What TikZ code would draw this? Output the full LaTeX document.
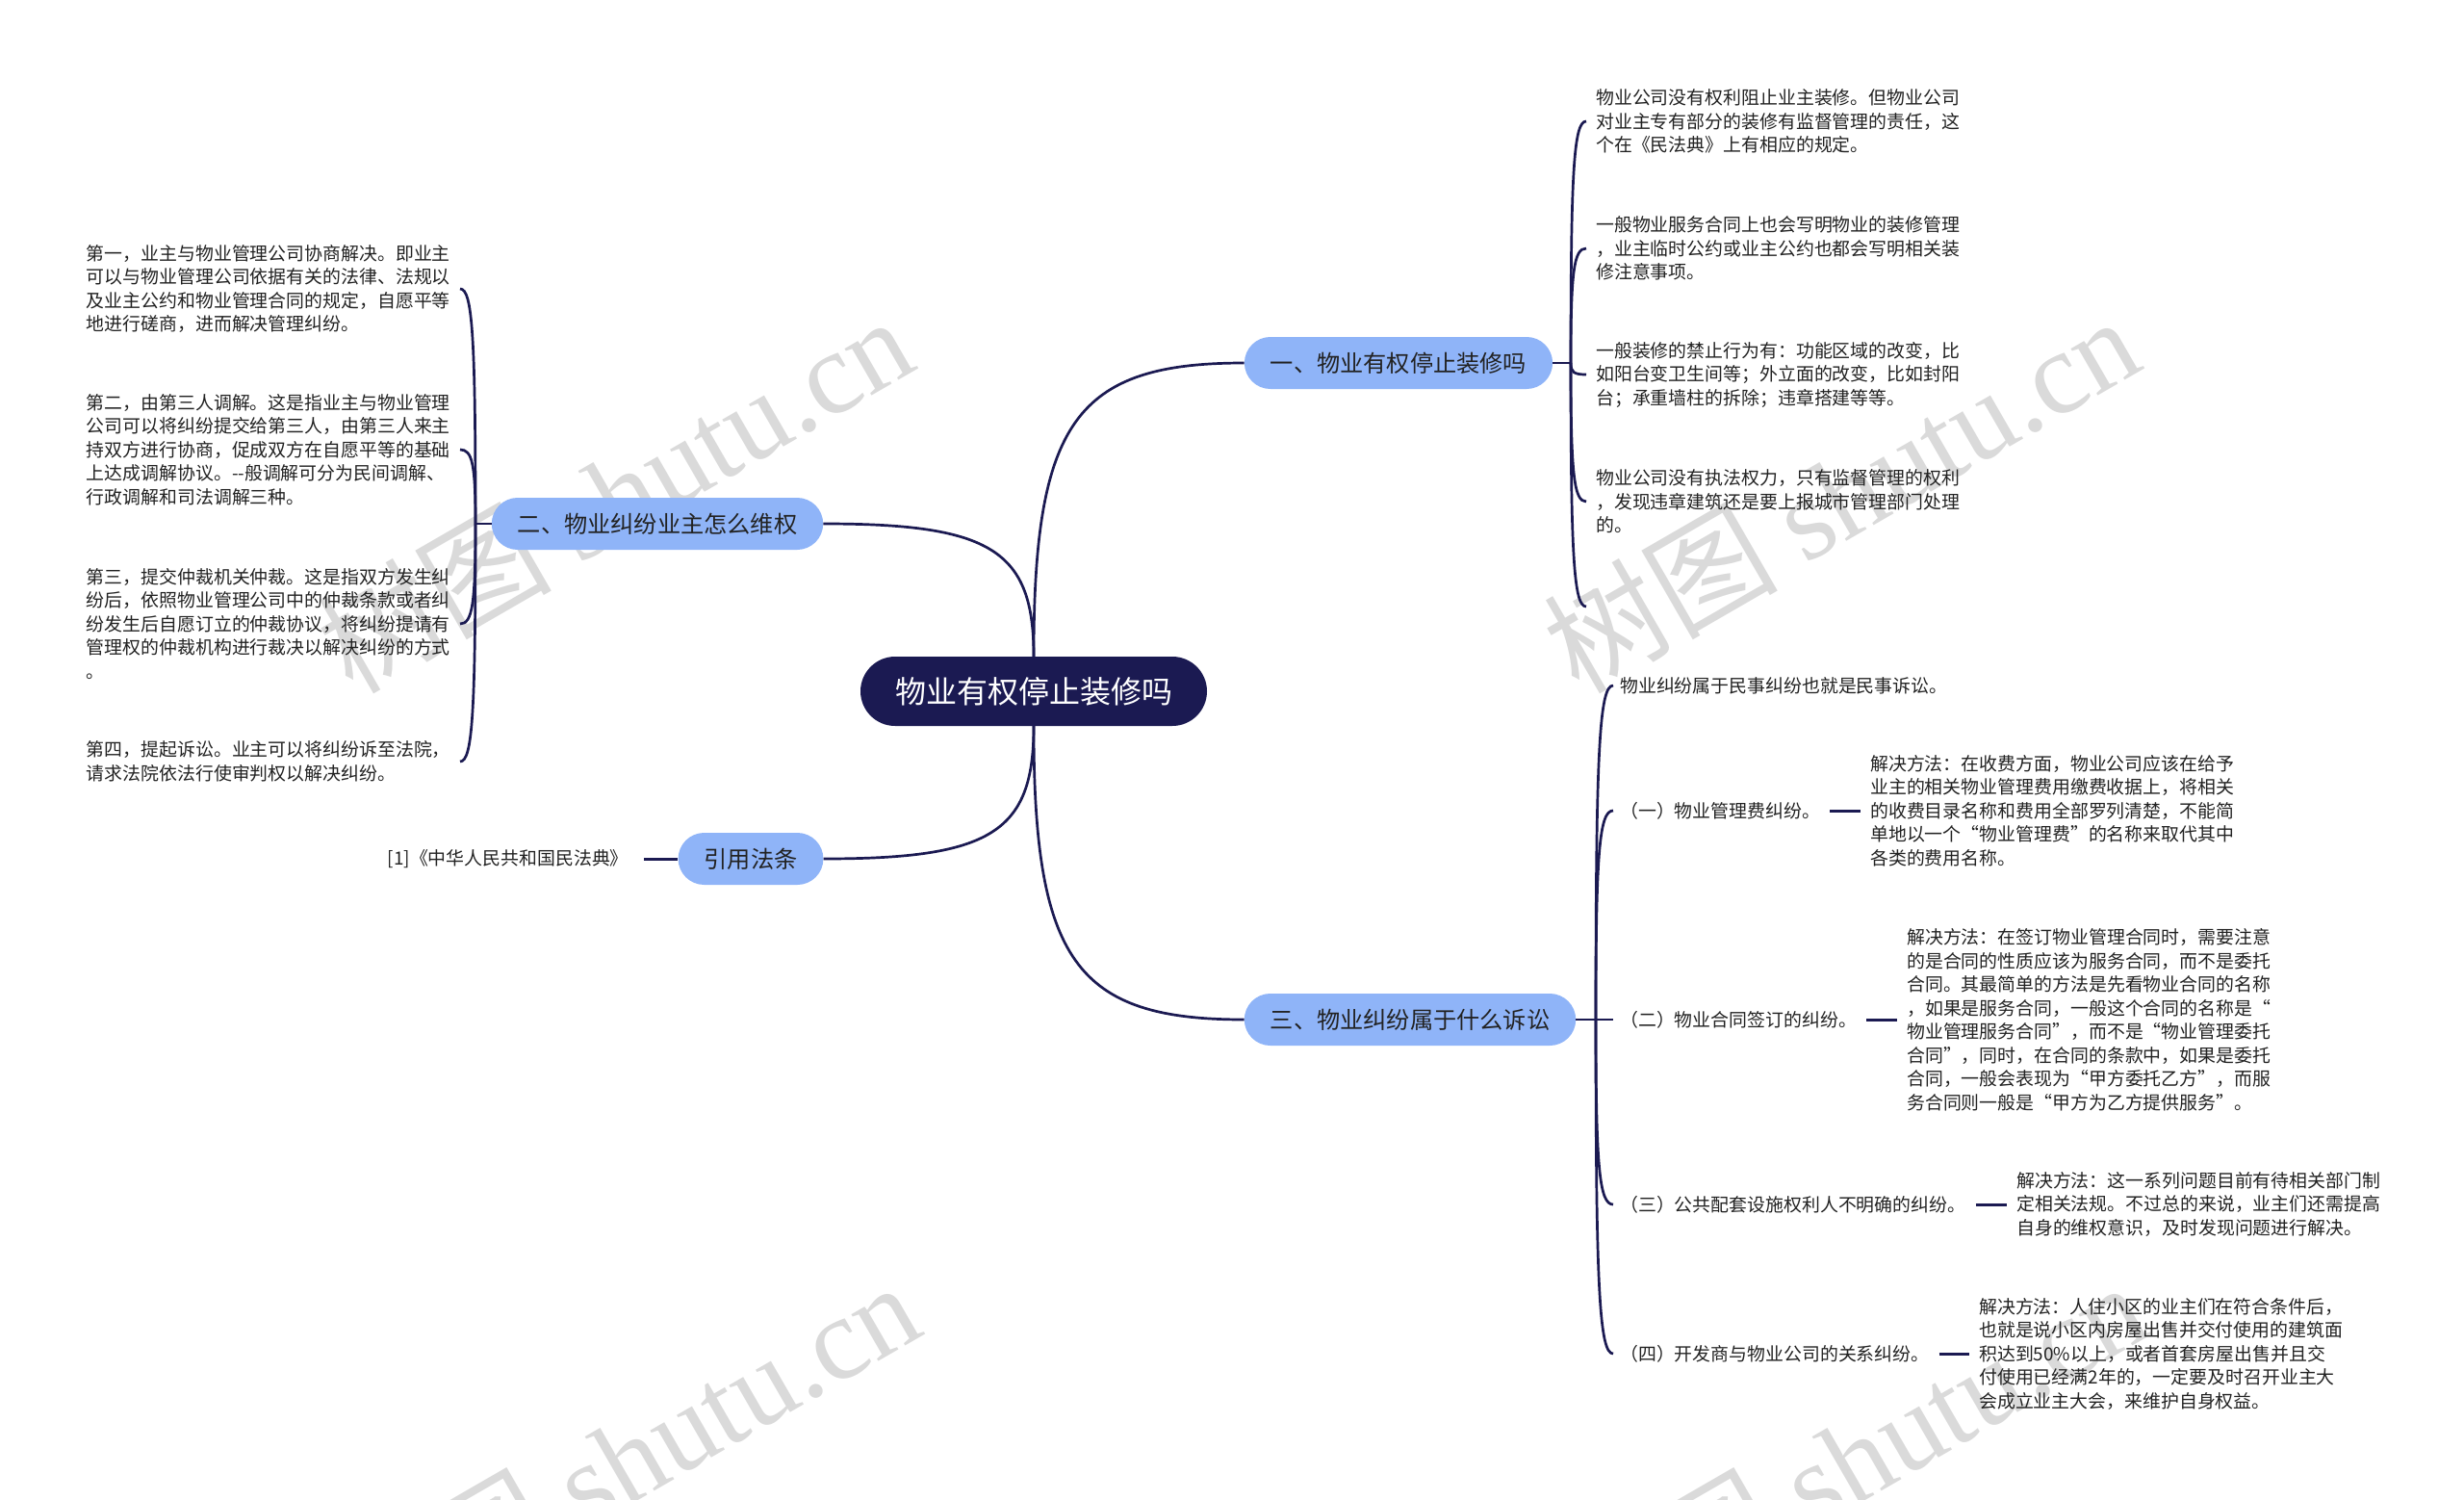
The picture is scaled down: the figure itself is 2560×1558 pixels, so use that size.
\documentclass[tikz,border=0pt]{standalone}
\usepackage{fontspec}
\setmainfont{Noto Sans CJK SC}
\newfontfamily\wmserif{Liberation Serif}
\usetikzlibrary{calc}
\definecolor{navy}{HTML}{1B1A52}
\definecolor{lblue}{HTML}{8FB4F8}
\definecolor{ink}{HTML}{222222}
\definecolor{wm}{HTML}{DADADA}
\begin{document}
\begin{tikzpicture}[x=1pt,y=-1pt,
 conn/.style={draw=navy,line width=2.7pt},
 rootnode/.style={fill=navy,text=white,rounded corners=36pt,minimum height=72pt,inner xsep=36pt,inner ysep=0pt,font=\fontsize{32}{38}\selectfont},
 branch/.style={fill=lblue,text=ink,rounded corners=27pt,minimum height=54pt,inner xsep=27pt,inner ysep=0pt,font=\fontsize{24.2}{29}\selectfont},
 leaf/.style={text=ink,align=left,inner xsep=10pt,inner ysep=0pt,font=\fontsize{18.9}{24.5}\selectfont},
 wmark/.style={text=wm,rotate=30,font=\fontsize{122}{130}\selectfont},
 curv/.style={to path={.. controls ($(\tikztostart)!0.8!(\tikztostart|-\tikztotarget)$) and ($(\tikztostart|-\tikztotarget)!0.2!(\tikztotarget)$) .. (\tikztotarget)}},
]
\fill[white] (0,0) rectangle (2560,1558);
\useasboundingbox (0,0) rectangle (2560,1558);

% watermarks
\node[wmark] (w1) at (638,512) {树图 {\wmserif shutu.cn}};
\node[wmark] (w2) at (1912,512) {树图 {\wmserif shutu.cn}};
\node[wmark] (w3) at (645,1515) {树图 {\wmserif shutu.cn}};
\node[wmark] (w4) at (1920,1515) {树图 {\wmserif shutu.cn}};

% main nodes
\node[rootnode] (root) at (1074,718) {物业有权停止装修吗};
\node[branch] (b1) at (1453,377) {一、物业有权停止装修吗};
\node[branch] (b2) at (683,544) {二、物业纠纷业主怎么维权};
\node[branch] (b3) at (1465,1059) {三、物业纠纷属于什么诉讼};
\node[branch] (b4) at (780,892) {引用法条};

\draw[conn] (root.north) to[curv] (b1.west);
\draw[conn] (root.north) to[curv] (b2.east);
\draw[conn] (root.south) to[curv] (b3.west);
\draw[conn] (root.south) to[curv] (b4.east);

% branch 1 children
\node[leaf,anchor=west] (r1) at (1648,126) {物业公司没有权利阻止业主装修。但物业公司\\对业主专有部分的装修有监督管理的责任，这\\个在《民法典》上有相应的规定。};
\node[leaf,anchor=west] (r2) at (1648,258) {一般物业服务合同上也会写明物业的装修管理\\，业主临时公约或业主公约也都会写明相关装\\修注意事项。};
\node[leaf,anchor=west] (r3) at (1648,389) {一般装修的禁止行为有：功能区域的改变，比\\如阳台变卫生间等；外立面的改变，比如封阳\\台；承重墙柱的拆除；违章搭建等等。};
\node[leaf,anchor=west] (r4) at (1648,521) {物业公司没有执法权力，只有监督管理的权利\\，发现违章建筑还是要上报城市管理部门处理\\的。};
\coordinate (j1) at (1632,377);
\coordinate (r5) at (1648,630);
\draw[conn] (b1.east) -- (j1);
\draw[conn] (j1) to[curv] (r1.west);
\draw[conn] (j1) to[curv] (r2.west);
\draw[conn] (j1) to[curv] (r3.west);
\draw[conn] (j1) to[curv] (r4.west);
\draw[conn] (j1) to[curv] (r5);

% branch 2 children
\node[leaf,anchor=east] (l1) at (478,300) {第一，业主与物业管理公司协商解决。即业主\\可以与物业管理公司依据有关的法律、法规以\\及业主公约和物业管理合同的规定，自愿平等\\地进行磋商，进而解决管理纠纷。};
\node[leaf,anchor=east] (l2) at (478,467) {第二，由第三人调解。这是指业主与物业管理\\公司可以将纠纷提交给第三人，由第三人来主\\持双方进行协商，促成双方在自愿平等的基础\\上达成调解协议。-{}-般调解可分为民间调解、\\行政调解和司法调解三种。};
\node[leaf,anchor=east] (l3) at (478,648) {第三，提交仲裁机关仲裁。这是指双方发生纠\\纷后，依照物业管理公司中的仲裁条款或者纠\\纷发生后自愿订立的仲裁协议，将纠纷提请有\\管理权的仲裁机构进行裁决以解决纠纷的方式\\。};
\node[leaf,anchor=east] (l4) at (478,791) {第四，提起诉讼。业主可以将纠纷诉至法院，\\请求法院依法行使审判权以解决纠纷。};
\coordinate (j2) at (494,544);
\draw[conn] (b2.west) -- (j2);
\draw[conn] (j2) to[curv] (l1.east);
\draw[conn] (j2) to[curv] (l2.east);
\draw[conn] (j2) to[curv] (l3.east);
\draw[conn] (j2) to[curv] (l4.east);

% branch 3 children
\node[leaf,anchor=west,inner xsep=7pt] (t0) at (1676,712) {物业纠纷属于民事纠纷也就是民事诉讼。};
\node[leaf,anchor=west,inner xsep=7pt] (k1) at (1676,842) {（一）物业管理费纠纷。};
\node[leaf,anchor=west,inner xsep=7pt] (k2) at (1676,1059) {（二）物业合同签订的纠纷。};
\node[leaf,anchor=west,inner xsep=7pt] (k3) at (1676,1251) {（三）公共配套设施权利人不明确的纠纷。};
\node[leaf,anchor=west,inner xsep=7pt] (k4) at (1676,1406) {（四）开发商与物业公司的关系纠纷。};
\coordinate (j3) at (1658,1059);
\draw[conn] (b3.east) -- (j3);
\draw[conn] (j3) to[curv] (t0.west);
\draw[conn] (j3) to[curv] (k1.west);
\draw[conn] (j3) -- (k2.west);
\draw[conn] (j3) to[curv] (k3.west);
\draw[conn] (j3) to[curv] (k4.west);

\node[leaf,anchor=west] (s1) at (1933,842) {解决方法：在收费方面，物业公司应该在给予\\业主的相关物业管理费用缴费收据上，将相关\\的收费目录名称和费用全部罗列清楚，不能简\\单地以一个“物业管理费”的名称来取代其中\\各类的费用名称。};
\node[leaf,anchor=west] (s2) at (1971,1059) {解决方法：在签订物业管理合同时，需要注意\\的是合同的性质应该为服务合同，而不是委托\\合同。其最简单的方法是先看物业合同的名称\\，如果是服务合同，一般这个合同的名称是“\\物业管理服务合同”，而不是“物业管理委托\\合同”，同时，在合同的条款中，如果是委托\\合同，一般会表现为“甲方委托乙方”，而服\\务合同则一般是“甲方为乙方提供服务”。};
\node[leaf,anchor=west] (s3) at (2085,1251) {解决方法：这一系列问题目前有待相关部门制\\定相关法规。不过总的来说，业主们还需提高\\自身的维权意识，及时发现问题进行解决。};
\node[leaf,anchor=west] (s4) at (2046,1406) {解决方法：人住小区的业主们在符合条件后，\\也就是说小区内房屋出售并交付使用的建筑面\\积达到50\%以上，或者首套房屋出售并且交\\付使用已经满2年的，一定要及时召开业主大\\会成立业主大会，来维护自身权益。};
\draw[conn,line width=3pt,shorten <=3pt] (k1.east) -- (s1.west);
\draw[conn,line width=3pt,shorten <=3pt] (k2.east) -- (s2.west);
\draw[conn,line width=3pt,shorten <=3pt] (k3.east) -- (s3.west);
\draw[conn,line width=3pt,shorten <=3pt] (k4.east) -- (s4.west);

% citation
\node[leaf,anchor=east] (cite) at (663,892) {[1]《中华人民共和国民法典》};
\draw[conn,line width=3pt,shorten <=6pt] (cite.east) -- (b4.west);
\end{tikzpicture}
\end{document}
